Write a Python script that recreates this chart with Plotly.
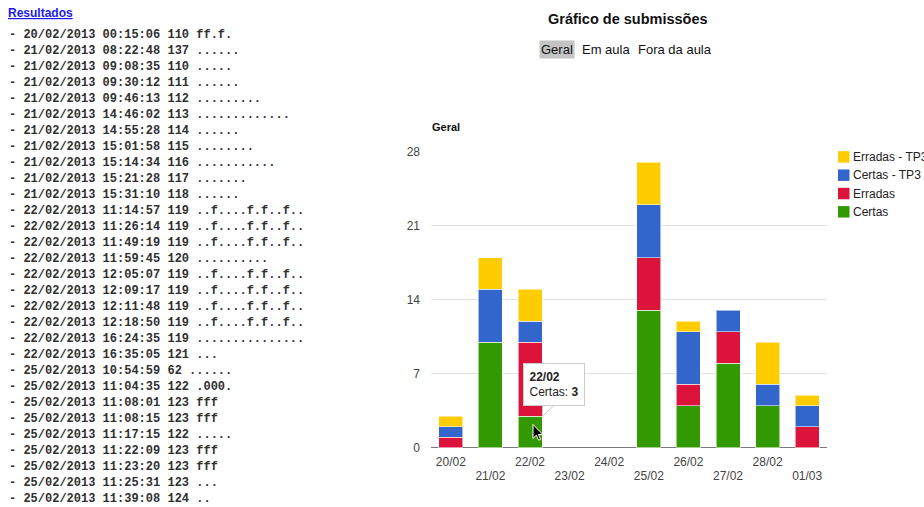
import plotly.graph_objects as go

W, H = 924, 507

# ---- chart data ----
categories = ["20/02", "21/02", "22/02", "23/02", "24/02", "25/02", "26/02", "27/02", "28/02", "01/03"]
certas = [0, 10, 3, 0, 0, 13, 4, 8, 4, 0]
erradas = [1, 0, 7, 0, 0, 5, 2, 3, 0, 2]
certas_tp3 = [1, 5, 2, 0, 0, 5, 5, 2, 2, 2]
erradas_tp3 = [1, 3, 3, 0, 0, 4, 1, 0, 4, 1]
series_names = ["Certas", "Erradas", "Certas - TP3", "Erradas - TP3"]
series_colors = ["#339900", "#DC143C", "#3366CC", "#FFCC00"]
y_ticks = [0, 7, 14, 21, 28]

# ---- submission log (left column) ----
log_dates = ["20/02/2013"] + ["21/02/2013"] * 10 + ["22/02/2013"] * 10 + ["25/02/2013"] * 9
log_times = ["00:15:06", "08:22:48", "09:08:35", "09:30:12", "09:46:13", "14:46:02", "14:55:28",
             "15:01:58", "15:14:34", "15:21:28", "15:31:10", "11:14:57", "11:26:14", "11:49:19",
             "11:59:45", "12:05:07", "12:09:17", "12:11:48", "12:18:50", "16:24:35", "16:35:05",
             "10:54:59", "11:04:35", "11:08:01", "11:08:15", "11:17:15", "11:22:09", "11:23:20",
             "11:25:31", "11:39:08"]
log_codes = ["110", "137", "110", "111", "112", "113", "114", "115", "116", "117", "118",
             "119", "119", "119", "120", "119", "119", "119", "119", "119", "121",
             "62", "122", "123", "123", "122", "123", "123", "123", "124"]
log_results = ["ff.f.", "......", ".....", "......", ".........", ".............", "......",
               "........", "...........", ".......", "......",
               "..f....f.f..f..", "..f....f.f..f..", "..f....f.f..f..", "..........",
               "..f....f.f..f..", "..f....f.f..f..", "..f....f.f..f..", "..f....f.f..f..",
               "...............", "...",
               "......", ".000.", "fff", "fff", ".....", "fff", "fff", "...", ".."]

# vertical calibration (observed render mapping)
V_OFF, V_SCALE = 4.85, 0.974


def px(x):
    return x / W


def py(y):
    return 1 - ((y - V_OFF) / V_SCALE) / H


SANS = "Liberation Sans, Arial, sans-serif"
MONO = "Liberation Mono, Courier New, monospace"

fig = go.Figure()
values = [certas, erradas, certas_tp3, erradas_tp3]
for name, vals, col in zip(series_names, values, series_colors):
    fig.add_trace(go.Bar(
        x=categories, y=[v if v else None for v in vals], name=name,
        marker=dict(color=col, line=dict(color="rgba(255,255,255,0.55)", width=1)),
        showlegend=False,
    ))
# helper trace for the second (staggered) label row
fig.add_trace(go.Scatter(x=list(range(len(categories))), y=[None] * len(categories),
                         xaxis="x2", mode="markers", marker=dict(opacity=0),
                         hoverinfo="skip", showlegend=False))

annotations = []
shapes = []

# left log
annotations.append(dict(
    x=px(6), y=py(11), xref="paper", yref="paper", xanchor="left", yanchor="middle",
    text="<b><u>Resultados</u></b>", showarrow=False,
    font=dict(family=SANS, size=12, color="#1a1aee")))
for i, (d, t, c, r) in enumerate(zip(log_dates, log_times, log_codes, log_results)):
    annotations.append(dict(
        x=px(7), y=py(32.7 + 16.04 * i), xref="paper", yref="paper",
        xanchor="left", yanchor="middle", showarrow=False,
        text=f"<b>- {d} {t} {c} {r}</b>",
        font=dict(family=MONO, size=12, color="#303030")))

# title and tabs
annotations.append(dict(
    x=px(628), y=py(16.5), xref="paper", yref="paper", xanchor="center", yanchor="middle",
    text="<b>Gráfico de submissões</b>", showarrow=False,
    font=dict(family=SANS, size=14.5, color="#111111")))
annotations.append(dict(
    x=px(539), y=py(47), xref="paper", yref="paper", xanchor="left", yanchor="middle",
    text="Geral", showarrow=False, bgcolor="#c4c4c4", borderpad=1,
    font=dict(family=SANS, size=13, color="#111111")))
annotations.append(dict(
    x=px(580), y=py(47), xref="paper", yref="paper", xanchor="left", yanchor="middle",
    text="Em aula", showarrow=False,
    font=dict(family=SANS, size=13, color="#111111")))
annotations.append(dict(
    x=px(636), y=py(47), xref="paper", yref="paper", xanchor="left", yanchor="middle",
    text="Fora da aula", showarrow=False,
    font=dict(family=SANS, size=13, color="#111111")))

# chart subtitle
annotations.append(dict(
    x=px(430), y=py(125), xref="paper", yref="paper", xanchor="left", yanchor="middle",
    text="<b>Geral</b>", showarrow=False,
    font=dict(family=SANS, size=11, color="#111111")))

# manual legend (reverse order)
leg_y = [155, 173.3, 191.7, 210]
for k, idx in enumerate([3, 2, 1, 0]):
    cy = leg_y[k]
    shapes.append(dict(type="rect", xref="paper", yref="paper",
                       x0=px(838), x1=px(849.5), y0=py(cy + 5.75), y1=py(cy - 5.75),
                       fillcolor=series_colors[idx], line=dict(width=0)))
    annotations.append(dict(
        x=px(851), y=py(cy), xref="paper", yref="paper", xanchor="left", yanchor="middle",
        text=series_names[idx], showarrow=False,
        font=dict(family=SANS, size=12, color="#222222")))

# tooltip for 22/02 Certas
tip_idx = 2
annotations.append(dict(
    x=px(553.5), y=py(383), xref="paper", yref="paper",
    xanchor="center", yanchor="middle",
    text=f"<b>{categories[tip_idx]}</b><br>{series_names[0]}: <b>{certas[tip_idx]}</b>",
    align="left", showarrow=False, bgcolor="#ffffff", bordercolor="#cccccc",
    borderwidth=1, borderpad=5.5,
    font=dict(family=SANS, size=12, color="#222222")))
# tooltip tail
shapes.append(dict(type="path", xref="paper", yref="paper",
                   path=f"M{px(542.5)},{py(402.6)} L{px(542.5)},{py(414.5)} L{px(555.5)},{py(402.6)} Z",
                   fillcolor="#ffffff", line=dict(color="#cccccc", width=1)))
shapes.append(dict(type="line", xref="paper", yref="paper",
                   x0=px(543.2), x1=px(554.8), y0=py(403.0), y1=py(403.0),
                   line=dict(color="#ffffff", width=1.5)))
# mouse cursor
cx, cy0 = 533, 423
pts = [(0, 0), (0, 14), (3.3, 10.8), (5.6, 15.8), (7.6, 15), (5.4, 10), (9.8, 10)]
cpath = "M" + " L".join(f"{px(cx + a)},{py(cy0 + b)}" for a, b in pts) + " Z"
shapes.append(dict(type="path", xref="paper", yref="paper", path=cpath,
                   fillcolor="#000000", line=dict(color="#ffffff", width=1)))

even_text = [c if i % 2 == 0 else "" for i, c in enumerate(categories)]
odd_idx = [i for i in range(len(categories)) if i % 2 == 1]
odd_text = [categories[i] for i in odd_idx]

tickfont = dict(family=SANS, size=12, color="#444444")
xdom = [px(431), px(827)]
fig.update_layout(
    width=W, height=H,
    margin=dict(l=0, r=0, t=0, b=0),
    paper_bgcolor="#ffffff", plot_bgcolor="#ffffff",
    barmode="stack", bargap=0.394,
    showlegend=False,
    xaxis=dict(domain=xdom, type="category",
               tickmode="array", tickvals=categories, ticktext=even_text,
               showgrid=False, showline=False, zeroline=False, ticks="",
               ticklabelstandoff=5,
               tickfont=tickfont, fixedrange=True),
    xaxis2=dict(domain=xdom, overlaying="x", anchor="y", side="bottom",
                range=[-0.5, len(categories) - 0.5],
                tickmode="array", tickvals=odd_idx, ticktext=odd_text,
                showgrid=False, showline=False, zeroline=False, ticks="",
                ticklabelstandoff=19,
                tickfont=tickfont, fixedrange=True),
    yaxis=dict(domain=[py(446.5), py(150)], range=[0, 28],
               tickvals=y_ticks, showgrid=True, gridcolor="#e3e3e3", gridwidth=1,
               zeroline=True, zerolinecolor="#7a7a7a", zerolinewidth=1.3,
               showline=False, ticks="", ticklabelstandoff=10,
               tickfont=tickfont, fixedrange=True),
    annotations=annotations,
    shapes=shapes,
)

fig.write_html("out.html")
